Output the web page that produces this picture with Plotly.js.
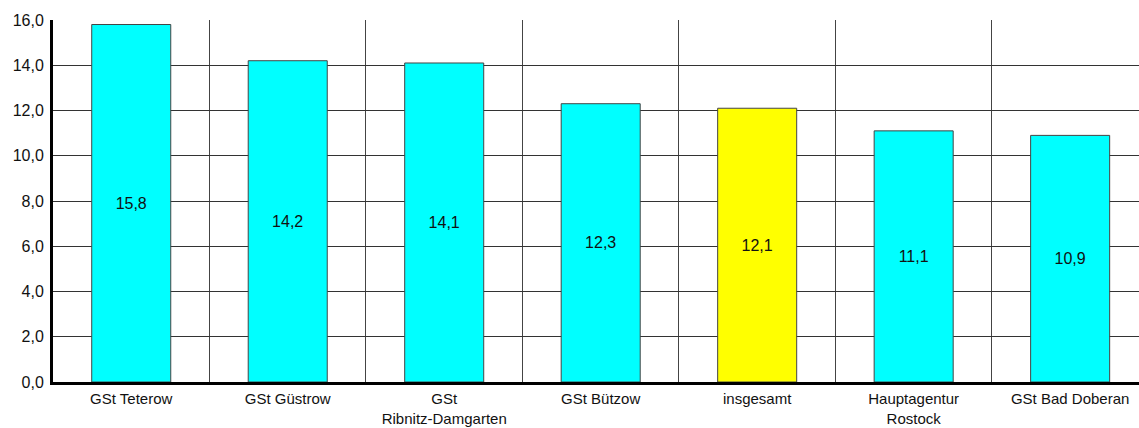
<!DOCTYPE html>
<html>
<head>
<meta charset="utf-8">
<script src="https://cdn.plot.ly/plotly-3.0.1.min.js"></script>
<style>html,body{margin:0;padding:0;background:#fff;}#chart{width:1139px;height:428px;}</style>
</head>
<body>
<div id="chart"></div>
<script>
const categories = ["GSt Teterow", "GSt Güstrow", "GSt<br>Ribnitz-Damgarten", "GSt Bützow", "insgesamt", "Hauptagentur<br>Rostock", "GSt Bad Doberan"];
const values = [15.8, 14.2, 14.1, 12.3, 12.1, 11.1, 10.9];
const barColors = ["#00FFFF", "#00FFFF", "#00FFFF", "#00FFFF", "#FFFF00", "#00FFFF", "#00FFFF"];
const yTicks = [0, 2, 4, 6, 8, 10, 12, 14, 16];

const trace = {
  type: 'bar',
  x: categories,
  y: values,
  width: 0.505,
  marker: {color: barColors, line: {color: '#444', width: 1}},
  texttemplate: '%{y:.1f}',
  textposition: 'inside',
  insidetextanchor: 'middle',
  textangle: 0,
  textfont: {family: 'Liberation Sans, Arial, sans-serif', size: 16, color: '#111'},
  hoverinfo: 'skip'
};

const layout = {
  width: 1139, height: 428,
  margin: {l: 53, r: 0, t: 20, b: 46, pad: 0},
  paper_bgcolor: '#fff', plot_bgcolor: '#fff',
  separators: ',.',
  showlegend: false,
  font: {family: 'Liberation Sans, Arial, sans-serif', size: 16, color: '#111'},
  xaxis: {
    type: 'category',
    range: [-0.5, 6.44],
    tickson: 'boundaries',
    showgrid: true, gridcolor: '#444', gridwidth: 1,
    showline: true, linecolor: '#000', linewidth: 3,
    ticks: '',
    ticklabelstandoff: 1,
    tickfont: {size: 15, color: '#111'},
    automargin: false,
    fixedrange: true
  },
  yaxis: {
    range: [0, 16],
    tickvals: yTicks,
    tickformat: '.1f',
    showgrid: true, gridcolor: '#333', gridwidth: 1,
    zeroline: false,
    showline: true, linecolor: '#000', linewidth: 3,
    ticks: '',
    ticklabelstandoff: 3,
    tickfont: {size: 16, color: '#111'},
    automargin: false,
    fixedrange: true
  },
  bargap: 0.495
};

Plotly.newPlot('chart', [trace], layout, {displayModeBar: false, staticPlot: true});
</script>
</body>
</html>
